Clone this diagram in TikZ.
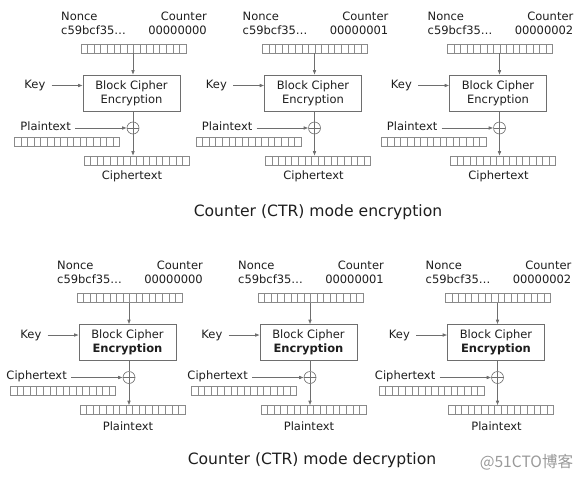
\documentclass[tikz,border=0pt]{standalone}
\usepackage{fontspec}
\setmainfont{DejaVu Sans}
\newfontfamily\cjkfont{Noto Sans CJK SC}
\usetikzlibrary{arrows.meta,calc}
\definecolor{txt}{HTML}{1E1E1E}
\definecolor{linegray}{HTML}{6E6E6E}
\definecolor{cellgray}{HTML}{8A8A8A}
\definecolor{wmgray}{HTML}{9A9A9A}
\tikzset{
  lbl/.style={font=\fontsize{11.5}{13.5}\selectfont, text=txt, inner sep=0pt},
  cellrow/.style={draw=cellgray, line width=0.6pt, minimum width=105pt, minimum height=9pt, inner sep=0pt,
    path picture={\foreach \i in {1,...,15}{\draw[cellgray, line width=0.6pt]
      ([xshift=\i*6.5625pt]path picture bounding box.north west) --
      ([xshift=\i*6.5625pt]path picture bounding box.south west);}}},
  cipher/.style={draw=linegray, line width=0.6pt, minimum width=97pt, minimum height=36pt, inner sep=0pt,
    align=center, font=\fontsize{11.5}{14}\selectfont, text=txt},
  xorn/.style={circle, draw=linegray, line width=0.6pt, minimum size=12pt, inner sep=0pt,
    path picture={\draw[linegray, line width=0.6pt]
      (path picture bounding box.west) -- (path picture bounding box.east)
      (path picture bounding box.north) -- (path picture bounding box.south);}},
  arr/.style={draw=linegray, line width=0.6pt, -{Latex[length=4.5pt,width=3.6pt]}},
  plain/.style={draw=linegray, line width=0.6pt},
  title/.style={font=\fontsize{15.6}{18}\selectfont, text=txt, inner sep=0pt}
}
\newcommand\ctrunit[7]{%
\begin{scope}[shift={(#2,#3)}]
  \node[lbl,anchor=west] (#1n) at (61,16) {Nonce};
  \node[lbl,anchor=west] (#1nv) at (61,30) {c59bcf35…};
  \node[lbl,anchor=east] (#1c) at (207,16) {Counter};
  \node[lbl,anchor=east] (#1cv) at (207,30) {#4};
  \node[cellrow] (#1ctr) at (133.5,48.5) {};
  \node[cipher] (#1box) at (131.5,93) {Block Cipher\\#7};
  \node[lbl,anchor=east] (#1key) at (45.5,85.5) {Key};
  \node[xorn] (#1xor) at (133,128) {};
  \node[lbl,anchor=east] (#1in) at (71,126.5) {#5};
  \node[cellrow] (#1inb) at (67,141.5) {};
  \node[cellrow] (#1out) at (136.5,160.5) {};
  \node[lbl] (#1outl) at (132,176.5) {#6};
  \draw[arr] (#1ctr.south -| #1xor) -- (#1xor |- #1box.north);
  \draw[arr] ([xshift=6pt]#1key.east) -- (#1key.east -| #1box.west);
  \draw[plain] (#1xor |- #1box.south) -- (#1xor.north);
  \draw[arr] (#1xor.south) -- (#1xor |- #1out.north);
  \draw[arr] ([xshift=4pt]#1in.east |- #1xor) -- (#1xor.west);
\end{scope}}
\begin{document}
\begin{tikzpicture}[x=1pt,y=-1pt]
\useasboundingbox (0,0) rectangle (585,479);
\fill[white] (0,0) rectangle (585,479);
\ctrunit{ea}{0}{0}{00000000}{Plaintext}{Ciphertext}{Encryption}
\ctrunit{eb}{181.5}{0}{00000001}{Plaintext}{Ciphertext}{Encryption}
\ctrunit{ec}{366.5}{0}{00000002}{Plaintext}{Ciphertext}{Encryption}
\node[title] (etitle) at (318,212) {Counter (CTR) mode encryption};
\ctrunit{da}{-4}{249.5}{00000000}{Ciphertext}{Plaintext}{\bfseries Encryption}
\ctrunit{db}{177}{249.5}{00000001}{Ciphertext}{Plaintext}{\bfseries Encryption}
\ctrunit{dc}{364.5}{249.5}{00000002}{Ciphertext}{Plaintext}{\bfseries Encryption}
\node[title] (dtitle) at (312,460) {Counter (CTR) mode decryption};
\node[inner sep=0pt, text=wmgray, font=\cjkfont\fontsize{15.6}{18}\selectfont] (wm) at (526.5,462) {@51CTO博客};
\end{tikzpicture}
\end{document}
